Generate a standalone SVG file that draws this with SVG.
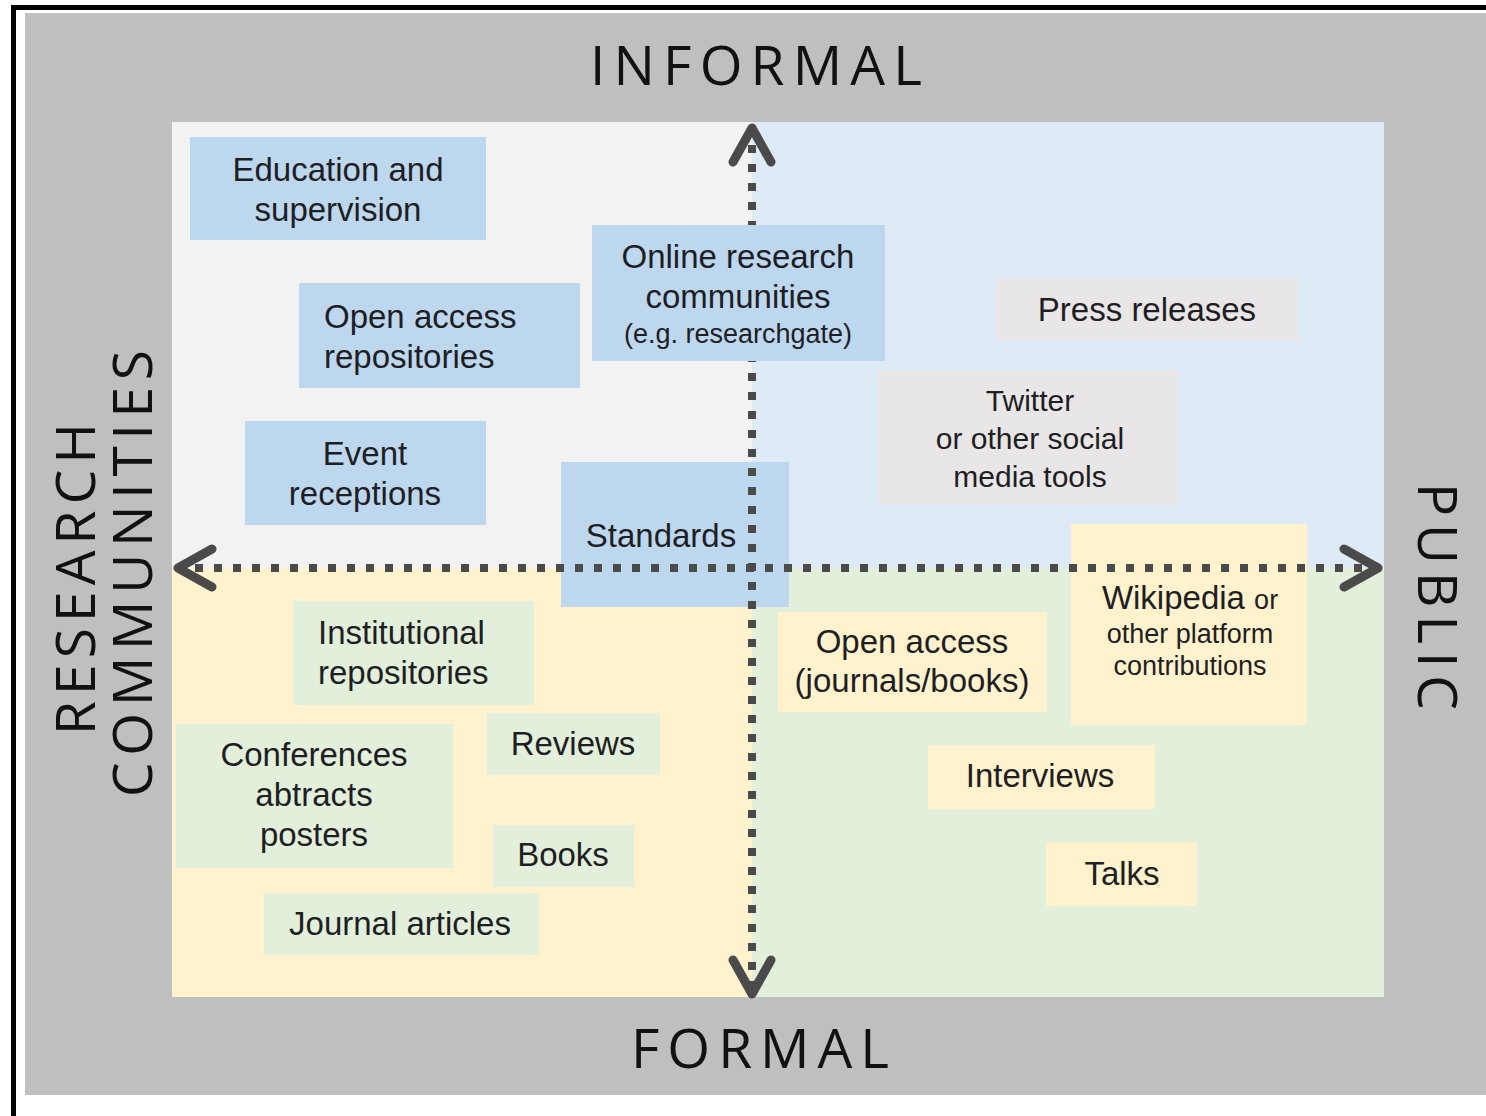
<svg xmlns="http://www.w3.org/2000/svg" width="1486" height="1116" viewBox="0 0 1486 1116">
<style>
.lbl{font-family:"Open Sans","Liberation Sans",sans-serif;font-size:55px;fill:#111;}
.t{font-family:"Liberation Sans",Arial,sans-serif;font-size:33px;fill:#1e1e24;text-anchor:middle;}
.s{font-size:27px;}
.l{text-anchor:start;}
.blue{fill:#bdd7ee;}
.green{fill:#e2efda;}
.yellow{fill:#fff2cc;}
.grey{fill:#e8e6e6;}
.axis{fill:none;stroke:#4a4a4a;stroke-width:8;stroke-dasharray:8 11;}
.head{fill:none;stroke:#4a4a4a;stroke-width:9;stroke-linecap:round;stroke-linejoin:round;}
</style>
<defs>
<marker id="arr" viewBox="-45 -25 50 50" refX="0" refY="0" markerWidth="50" markerHeight="50" markerUnits="userSpaceOnUse" orient="auto-start-reverse">
<path class="head" d="M-36,-19 L-2,0 L-36,19"/>
</marker>
</defs>
<rect x="0" y="0" width="1486" height="1116" fill="#ffffff"/>
<rect x="11" y="5" width="1475" height="5" fill="#000"/>
<rect x="11" y="5" width="5" height="1111" fill="#000"/>
<rect x="25" y="13" width="1461" height="1082" fill="#bfbfbf"/>
<g id="quadrants">
<rect x="172" y="122" width="580" height="446" fill="#f2f2f2"/>
<rect x="752" y="122" width="632" height="446" fill="#deebf7"/>
<rect x="172" y="568" width="580" height="429" fill="#fff2cc"/>
<rect x="752" y="568" width="632" height="429" fill="#e2efda"/>
</g>
<g id="labels">
<text class="lbl" x="590" y="85" textLength="332" lengthAdjust="spacing">INFORMAL</text>
<text class="lbl" x="631" y="1068" textLength="258" lengthAdjust="spacing">FORMAL</text>
<text class="lbl" transform="translate(95,735) rotate(-90)" textLength="312" lengthAdjust="spacing">RESEARCH</text>
<text class="lbl" transform="translate(152,797) rotate(-90)" textLength="447" lengthAdjust="spacing">COMMUNITIES</text>
<text class="lbl" transform="translate(1418,483) rotate(90)" textLength="227" lengthAdjust="spacing">PUBLIC</text>
</g>
<g id="n-education">
<rect class="blue" x="190" y="137" width="296" height="103"/>
<text class="t" x="338" y="181">Education and</text>
<text class="t" x="338" y="221">supervision</text>
</g>
<g id="n-openaccess-repos">
<rect class="blue" x="299" y="283" width="281" height="105"/>
<text class="t l" x="324" y="328">Open access</text>
<text class="t l" x="324" y="368">repositories</text>
</g>
<g id="n-event">
<rect class="blue" x="245" y="421" width="241" height="104"/>
<text class="t" x="365" y="465">Event</text>
<text class="t" x="365" y="505">receptions</text>
</g>
<g id="n-standards">
<rect class="blue" x="561" y="462" width="228" height="145"/>
<text class="t" x="661" y="547">Standards</text>
</g>
<g id="n-press">
<rect class="grey" x="996" y="278" width="302" height="62"/>
<text class="t" x="1147" y="321">Press releases</text>
</g>
<g id="n-twitter">
<rect class="grey" x="878" y="370" width="300" height="135"/>
<text class="t" x="1030" y="411" style="font-size:30px">Twitter</text>
<text class="t" x="1030" y="449" style="font-size:30px">or other social</text>
<text class="t" x="1030" y="487" style="font-size:30px">media tools</text>
</g>
<g id="n-wikipedia">
<rect class="yellow" x="1071" y="524" width="236" height="201"/>
<text class="t" x="1190" y="609">Wikipedia <tspan class="s">or</tspan></text>
<text class="t s" x="1190" y="643">other platform</text>
<text class="t s" x="1190" y="675">contributions</text>
</g>
<g id="n-openaccess-journals">
<rect class="yellow" x="778" y="612" width="269" height="100"/>
<text class="t" x="912" y="653">Open access</text>
<text class="t" x="912" y="692">(journals/books)</text>
</g>
<g id="n-interviews">
<rect class="yellow" x="928" y="745" width="227" height="64"/>
<text class="t" x="1040" y="787">Interviews</text>
</g>
<g id="n-talks">
<rect class="yellow" x="1046" y="842" width="151" height="64"/>
<text class="t" x="1122" y="885">Talks</text>
</g>
<g id="n-institutional">
<rect class="green" x="293" y="601" width="241" height="104"/>
<text class="t l" x="318" y="644">Institutional</text>
<text class="t l" x="318" y="684">repositories</text>
</g>
<g id="n-conferences">
<rect class="green" x="176" y="724" width="277" height="144"/>
<text class="t" x="314" y="766">Conferences</text>
<text class="t" x="314" y="806">abtracts</text>
<text class="t" x="314" y="846">posters</text>
</g>
<g id="n-reviews">
<rect class="green" x="487" y="713" width="173" height="62"/>
<text class="t" x="573" y="755">Reviews</text>
</g>
<g id="n-books">
<rect class="green" x="493" y="825" width="141" height="62"/>
<text class="t" x="563" y="866">Books</text>
</g>
<g id="n-journal">
<rect class="green" x="264" y="893" width="275" height="62"/>
<text class="t" x="400" y="935">Journal articles</text>
</g>
<g id="connectors">
<path class="axis" d="M176,568 L1380,568" marker-start="url(#arr)" marker-end="url(#arr)"/>
<path class="axis" d="M752,126 L752,996" marker-start="url(#arr)" marker-end="url(#arr)"/>
</g>
<g id="n-online">
<rect class="blue" x="592" y="225" width="293" height="136"/>
<text class="t" x="738" y="268">Online research</text>
<text class="t" x="738" y="308">communities</text>
<text class="t s" x="738" y="343">(e.g. researchgate)</text>
</g>
</svg>
